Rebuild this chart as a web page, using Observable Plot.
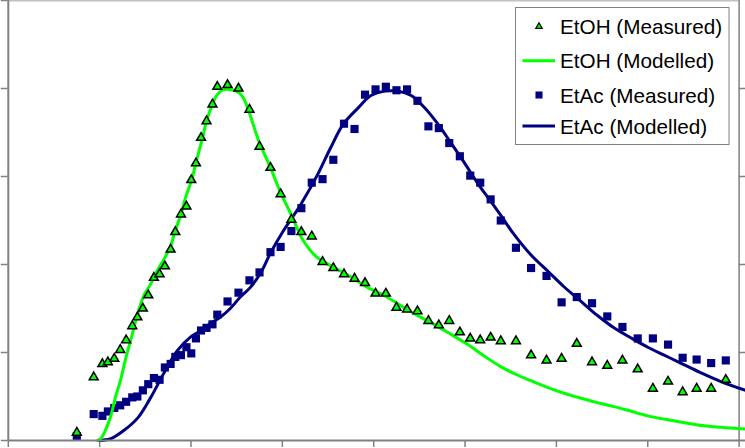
<!DOCTYPE html>
<html>
<head>
<meta charset="utf-8">
<script src="https://cdn.jsdelivr.net/npm/d3@7"></script>
<script src="https://cdn.jsdelivr.net/npm/@observablehq/plot@0.6"></script>
<style>
  html, body { margin: 0; padding: 0; background: #fff; }
  #wrap { position: relative; width: 745px; height: 448px; overflow: hidden; }
  #wrap > svg { position: absolute; left: 0; top: 0; }
  #legend { position: absolute; left: 0; top: 0; pointer-events: none; }
</style>
</head>
<body>
<div id="wrap"></div>
<script>
// ---- data ----
const sampleTime = [0.75,0.935,1.03,1.09,1.16,1.225,1.29,1.357,1.413,1.473,1.532,1.594,1.656,1.714,1.777,1.828,1.89,1.95,2.003,2.054,2.11,2.17,2.235,2.288,2.40,2.52,2.64,2.75,2.87,2.981,3.099,3.208,3.322,3.44,3.558,3.675,3.79,3.905,4.02,4.133,4.249,4.365,4.479,4.599,4.713,4.827,4.943,5.057,5.166,5.28,5.391,5.557,5.723,5.892,6.057,6.223,6.39,6.557,6.723,6.89,7.056,7.222,7.382,7.535,7.694,7.854];
const etohMeasured = [0.09,0.72,0.87,0.89,0.93,1.03,1.14,1.30,1.40,1.50,1.65,1.85,1.89,1.98,2.17,2.37,2.57,2.66,2.96,3.15,3.44,3.63,3.82,4.02,4.04,4.00,3.76,3.34,3.10,2.80,2.51,2.37,2.32,2.03,1.96,1.89,1.84,1.79,1.67,1.67,1.51,1.49,1.47,1.36,1.31,1.36,1.23,1.16,1.14,1.17,1.13,1.13,0.97,0.91,0.93,1.10,0.89,0.85,0.91,0.81,0.59,0.67,0.55,0.59,0.59,0.69];
const etacMeasured = [0.05,0.30,0.28,0.33,0.37,0.40,0.44,0.49,0.50,0.57,0.64,0.71,0.69,0.83,0.87,0.95,0.97,1.06,0.99,1.16,1.25,1.28,1.32,1.43,1.58,1.68,1.82,1.91,2.14,2.20,2.38,2.64,2.93,2.97,3.19,3.60,3.54,3.93,3.99,4.02,3.98,3.99,3.86,3.57,3.55,3.38,3.23,3.01,2.93,2.74,2.50,2.19,1.96,1.87,1.57,1.63,1.56,1.41,1.29,1.16,1.16,1.09,0.94,0.92,0.88,0.91];

const etohModelTime = [0.98,1.02,1.06,1.12,1.17,1.23,1.28,1.35,1.43,1.49,1.56,1.63,1.71,1.78,1.83,1.89,1.94,2.01,2.06,2.12,2.17,2.23,2.28,2.34,2.41,2.50,2.57,2.63,2.74,2.87,2.98,3.09,3.23,3.38,3.56,3.75,3.93,4.11,4.30,4.48,4.66,4.84,5.03,5.21,5.39,5.56,5.72,5.99,6.27,6.49,6.76,7.00,7.25,7.53,7.80,8.07];
const etohModel = [0,0.03,0.11,0.27,0.48,0.69,0.91,1.18,1.49,1.66,1.78,1.93,2.07,2.22,2.39,2.57,2.76,2.97,3.18,3.41,3.63,3.81,3.92,3.98,3.99,3.97,3.90,3.75,3.41,3.10,2.82,2.58,2.27,2.08,1.97,1.86,1.74,1.65,1.53,1.42,1.32,1.21,1.09,0.96,0.84,0.75,0.68,0.57,0.48,0.42,0.35,0.28,0.23,0.18,0.15,0.13];

const etacModelTime = [0.98,1.12,1.26,1.42,1.56,1.70,1.85,2.00,2.11,2.21,2.32,2.43,2.54,2.65,2.76,2.87,3.01,3.20,3.39,3.53,3.67,3.83,3.97,4.13,4.26,4.41,4.55,4.70,4.84,4.99,5.14,5.28,5.39,5.53,5.72,5.91,6.08,6.27,6.45,6.63,6.81,7.00,7.18,7.36,7.58,7.80,8.07];
const etacModel = [0,0.02,0.11,0.26,0.49,0.76,1.02,1.18,1.25,1.33,1.40,1.50,1.63,1.74,1.90,2.13,2.38,2.68,3.03,3.33,3.60,3.78,3.92,3.97,3.97,3.92,3.79,3.60,3.39,3.16,2.92,2.72,2.56,2.35,2.11,1.92,1.75,1.58,1.42,1.28,1.17,1.06,0.97,0.88,0.77,0.67,0.57];

const xTicks = [0,1,2,3,4,5,6,7,8];
const yTicks = [0,1,2,3,4,5];
const rightTicks = [1,2,3,4];
const legendLabels = ["EtOH (Measured)","EtOH (Modelled)","EtAc (Measured)","EtAc (Modelled)"];

// ---- build ----
const green = "#00ff00", navy = "#000080", axisGray = "#808080";
const xMax = 8.07, xRight = 8;
const measured = sampleTime.map((t, i) => ({t, etoh: etohMeasured[i], etac: etacMeasured[i]}));
const etohLine = etohModelTime.map((t, i) => ({t, v: etohModel[i]}));
const etacLine = etacModelTime.map((t, i) => ({t, v: etacModel[i]}));

const chart = Plot.plot({
  width: 745,
  height: 448,
  marginLeft: 7.8,
  marginRight: 0,
  marginTop: 0,
  marginBottom: 8,
  x: {domain: [0, xMax]},
  y: {domain: [0, 5]},
  marks: [
    Plot.ruleY([5], {x1: 0, x2: xRight, stroke: "#c0c0c0", strokeWidth: 2}),
    Plot.ruleX([xRight], {stroke: axisGray, strokeWidth: 1.5}),
    Plot.ruleY(rightTicks, {x1: xRight, x2: xMax, stroke: axisGray, strokeWidth: 1.5}),
    Plot.axisX(xTicks, {tickSize: 7, fill: "none", stroke: axisGray, strokeWidth: 1.5, label: null}),
    Plot.axisY(yTicks, {tickSize: 7, fill: "none", stroke: axisGray, strokeWidth: 1.5, label: null}),
    Plot.dot(measured, {x: "t", y: "etac", symbol: "square", r: 4.6, fill: navy, stroke: "none"}),
    Plot.line(etacLine, {x: "t", y: "v", stroke: navy, strokeWidth: 3, curve: "catmull-rom"}),
    Plot.line(etohLine, {x: "t", y: "v", stroke: green, strokeWidth: 3, curve: "catmull-rom"}),
    Plot.dot(measured, {x: "t", y: "etoh", symbol: "triangle", r: 3.3, fill: green, stroke: "#000", strokeWidth: 1.5}),
    Plot.ruleX([0], {stroke: axisGray, strokeWidth: 2}),
    Plot.ruleY([0], {stroke: axisGray, strokeWidth: 2})
  ]
});
const wrap = document.getElementById("wrap");
wrap.appendChild(chart);

// ---- legend overlay ----
const leg = d3.select(wrap).append("svg").attr("id", "legend")
  .attr("width", 745).attr("height", 448);
leg.append("rect").attr("x", 515.5).attr("y", 7.5).attr("width", 213.5).attr("height", 137)
  .attr("fill", "#fff").attr("stroke", axisGray).attr("stroke-width", 1);
const baselines = [33.5, 68.3, 102.5, 133.5];
legendLabels.forEach((label, i) => {
  const by = baselines[i];
  const cy = by - 7.5;
  if (i === 0) {
    leg.append("path").attr("transform", `translate(539,${cy + 0.5})`)
      .attr("d", d3.symbol(d3.symbolTriangle, 18)())
      .attr("fill", green).attr("stroke", "#000").attr("stroke-width", 1.2);
  } else if (i === 2) {
    leg.append("path").attr("transform", `translate(539,${cy})`)
      .attr("d", d3.symbol(d3.symbolSquare, 50)())
      .attr("fill", navy);
  } else {
    leg.append("line").attr("x1", 522.5).attr("x2", 555).attr("y1", cy).attr("y2", cy)
      .attr("stroke", i === 1 ? green : navy).attr("stroke-width", 3);
  }
  leg.append("text").attr("x", 560).attr("y", by)
    .attr("font-family", "'Liberation Sans', Arial, sans-serif")
    .attr("font-size", 20.7).attr("fill", "#000")
    .text(label);
});
</script>
</body>
</html>
